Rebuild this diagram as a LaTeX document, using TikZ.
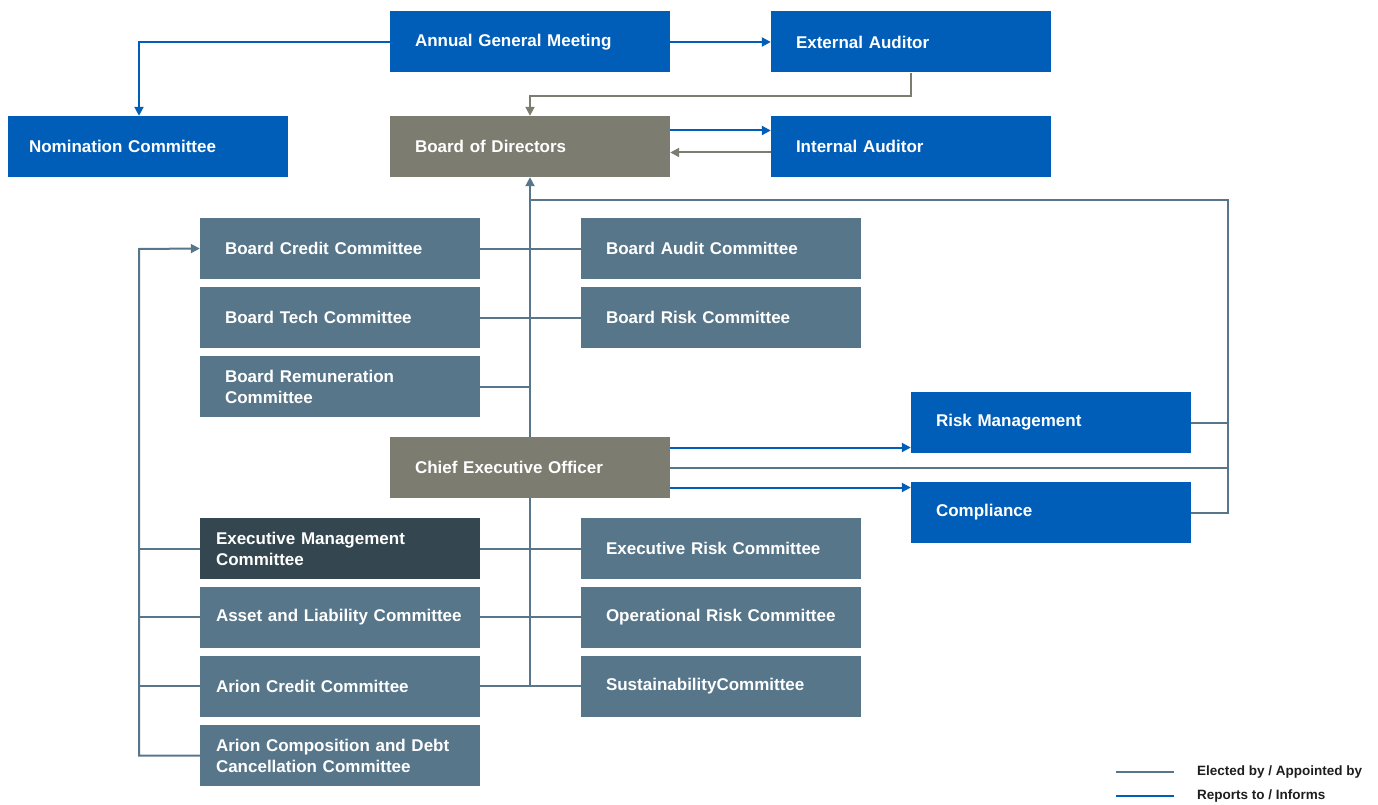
\documentclass[tikz,border=0pt]{standalone}
\usepackage{fontspec}
\setmainfont{Liberation Sans}
\usetikzlibrary{arrows.meta}
\definecolor{abblue}{HTML}{005EB8}
\definecolor{abslate}{HTML}{57768A}
\definecolor{abgray}{HTML}{7D7C70}
\definecolor{abdark}{HTML}{34464F}
\definecolor{abtext}{HTML}{1E1E1E}
\tikzset{
  box/.style = {fill=#1, text=white, font=\fontsize{17}{21}\selectfont\bfseries,
    minimum height=61pt, inner ysep=0pt, inner xsep=25pt, text width=230pt, align=left},
  box/.default = abslate,
  lowbox/.style = {box=#1, inner xsep=16pt, text width=248pt},
  lowbox/.default = abslate,
  elect/.style = {draw=abslate, line width=2pt},
  report/.style = {draw=abblue, line width=2pt},
  audit/.style = {draw=abgray, line width=2pt},
  tip/.style = {-{Triangle[length=9pt,width=9pt]}},
  legend/.style = {text=abtext, font=\fontsize{13.5}{16}\selectfont\bfseries, inner sep=0pt, anchor=west}
}

\begin{document}
\begin{tikzpicture}[x=1pt, y=-1pt]
\useasboundingbox (0,0) rectangle (1378,805);

% governance
\node[box=abblue] (agm) at (530,42) {Annual General Meeting};
\node[box=abblue] (ext) at (911,42) {External Auditor};
\node[box=abblue, inner xsep=21pt, text width=238pt] (nom) at (148,146.5) {Nomination Committee};
\node[box=abgray] (bod) at (530,146.5) {Board of Directors};
\node[box=abblue] (int) at (911,146.5) {Internal Auditor};

% board committees
\node[box] (bcc) at (340,248.5) {Board Credit Committee};
\node[box] (btc) at (340,317.5) {Board Tech Committee};
\node[box] (brc) at (340,386.5) {Board Remuneration\\Committee};
\node[box] (bac) at (721,248.5) {Board Audit Committee};
\node[box] (brk) at (721,317.5) {Board Risk Committee};

% management
\node[box=abgray] (ceo) at (530,467.5) {Chief Executive Officer};
\node[box=abblue] (rm) at (1051,422.5) {Risk Management};
\node[box=abblue] (comp) at (1051,512.5) {Compliance};

% executive committees
\node[lowbox=abdark] (emc) at (340,548.5) {Executive Management\\Committee};
\node[lowbox] (alc) at (340,617) {Asset and Liability Committee};
\node[lowbox] (acc) at (340,686) {Arion Credit Committee};
\node[lowbox] (acd) at (340,755.5) {Arion Composition and Debt\\Cancellation Committee};
\node[box] (erc) at (721,548.5) {Executive Risk Committee};
\node[box] (orc) at (721,617) {Operational Risk Committee};
\node[box] (sc) at (721,686) {SustainabilityCommittee};

\coordinate (lbus) at (139,249);
\coordinate (rbus) at (1228,200);

% top connectors
\draw[report, tip] (agm.west) -| ([xshift=-9pt]nom.north);
\draw[report, tip] (agm.east) -- (ext.west);
\draw[audit, tip] (ext.south) -- ++(0,23) -| (bod.north);
\draw[report, tip] ([yshift=16pt]bod.east) -- ([yshift=16pt]int.west);
\draw[audit, tip] ([yshift=-6pt]int.west) -- ([yshift=-6pt]bod.east);

% board side
\draw[elect, tip] (ceo.north) -- (bod.south);
\draw[elect] (ceo.north |- rbus) -- (rbus) |- (comp.east);
\draw[elect] (rm.east) -- (rm.east -| rbus);
\draw[elect] (ceo.east) -- (ceo.east -| rbus);
\draw[elect] (bcc.east) -- (bac.west);
\draw[elect] (btc.east) -- (brk.west);
\draw[elect] (brc.east) -- (brc.east -| ceo.north);

\draw[report, tip] ([yshift=20pt]ceo.east) -- ([yshift=20pt]ceo.east -| rm.west);
\draw[report, tip] ([yshift=-20pt]ceo.east) -- ([yshift=-20pt]ceo.east -| comp.west);

% executive side
\draw[elect] (ceo.south) |- (acc.east);
\draw[elect] (emc.east) -- (erc.west);
\draw[elect] (alc.east) -- (orc.west);
\draw[elect] (acc.east) -- (sc.west);
\draw[elect, tip] (acd.west) -| (lbus) -- (bcc.west);
\foreach \n in {emc, alc, acc}
  \draw[elect] (\n.west) -- (\n.west -| lbus);

% legend
\coordinate (k1) at (1116,772);
\coordinate (k2) at (1116,796);
\draw[elect] (k1) -- ++(58,0) node[legend, right=22pt] (kt1) {Elected by / Appointed by};
\draw[report] (k2) -- ++(58,0) node[legend, right=22pt] (kt2) {Reports to / Informs};
\end{tikzpicture}
\end{document}
